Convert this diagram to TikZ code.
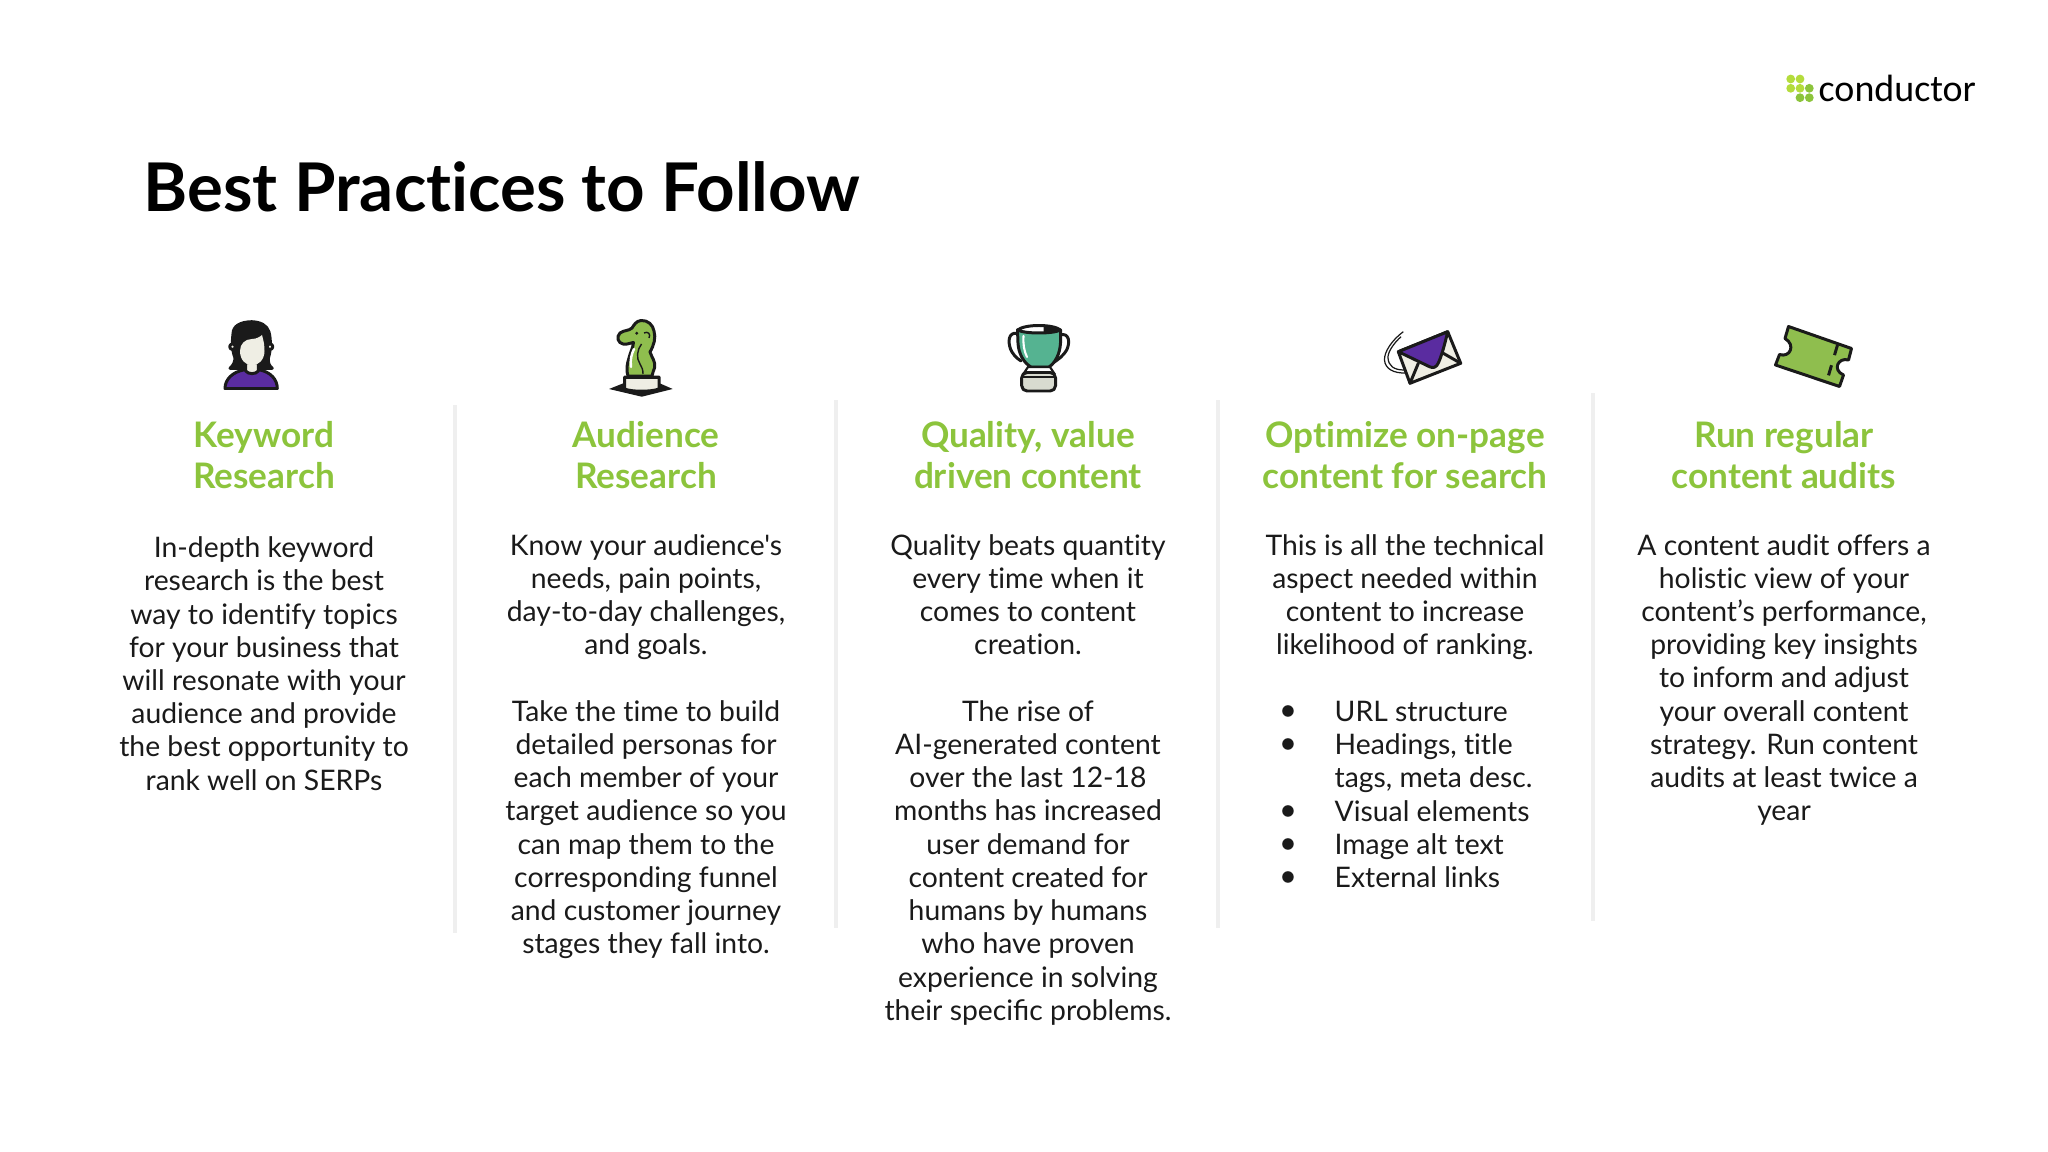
\documentclass[tikz,border=0pt]{standalone}
\usepackage{fontspec}
\newfontfamily\deckfont{Lato}[Ligatures=NoCommon]
\newfontfamily\logofont{Carlito}
\usepackage{tikz}
\definecolor{leaf}{HTML}{8CC43C}
\definecolor{moss}{HTML}{8FBE4E}
\definecolor{lime}{HTML}{B4DC3C}
\definecolor{ink}{HTML}{1A1A1A}
\definecolor{rule}{HTML}{EFEFEF}
\definecolor{plum}{HTML}{5A2CA0}
\definecolor{ivory}{HTML}{EFEEE4}
\definecolor{teal}{HTML}{55B391}
\definecolor{stone}{HTML}{D8DBD0}
\tikzset{
  heading/.style={anchor=north, align=center, inner sep=0pt, text=leaf,
    font=\deckfont\fontsize{10}{11.5}\selectfont\bfseries},
  bodytext/.style={anchor=north, align=center, inner sep=0pt, text=ink,
    font=\deckfont\fontsize{8.05}{9.45}\selectfont},
  listtext/.style={anchor=north west, align=left, inner sep=0pt, text=ink,
    font=\deckfont\fontsize{8.05}{9.45}\selectfont},
  sepline/.style={draw=rule, line width=1.4pt},
  outline/.style={draw=ink, line width=0.85pt, line join=round, line cap=round}
}
\begin{document}
\begin{tikzpicture}[x=0.01cm, y=-0.01cm]
       \useasboundingbox (0,0) rectangle (2048,1152);
       \node (title) at (143,187) [anchor=west, inner sep=0pt, text=black] {\deckfont\fontsize{19.1}{21}\selectfont\bfseries Best Practices to Follow};
       % logo
       \fill [lime] (1790.7,79) circle (4.4);
       \fill [lime] (1800,79) circle (4.4);
       \fill [lime] (1790.7,88.3) circle (4.4);
       \fill [lime] (1800,88.3) circle (4.4);
       \fill [leaf] (1809.3,88.3) circle (4.4);
       \fill [leaf] (1800,97.7) circle (4.4);
       \fill [leaf] (1809.3,97.7) circle (4.4);
       \node (logo) at (1818,102) [anchor=base west, inner sep=0pt, text=black] {\logofont\fontsize{10.8}{12}\selectfont conductor};
       % rules between the columns
       \draw [sepline] (455,405) -- (455,933);
       \draw [sepline] (836,400) -- (836,928);
       \draw [sepline] (1218,400) -- (1218,928);
       \draw [sepline] (1593,393) -- (1593,921);
       % person
       \draw [outline, fill=ink] (251.7,321.7) .. controls (240,322) and (233,326) .. (233,334) .. controls (232,342) and (232,350) .. (235,358) .. controls (235,362) and (233,366) .. (230,368.3) -- (272.3,368.3) .. controls (269,366) and (268,362) .. (268.3,358.3) .. controls (271,350) and (271,340) .. (269,332) .. controls (267,325) and (260,322) .. (251.7,321.7) -- cycle;
       \draw [outline, fill=ivory] (232.5,346.7) circle (2.8);
       \draw [outline, fill=ivory] (270,346.7) circle (2.8);
       \draw [outline, fill=plum] (225,388.5) .. controls (225,379) and (233,372) .. (243.5,370) -- (260,370) .. controls (270,372) and (277.3,379) .. (277.3,388.5) -- cycle;
       \draw [outline, fill=ivory] (245.7,363) -- (245.7,371) .. controls (248,374.5) and (256,374.5) .. (258.3,371) -- (258.3,363) -- cycle;
       \fill [ivory] (240,351) .. controls (240,344) and (245,339) .. (252,339) .. controls (257,339) and (261,336) .. (262,335) .. controls (264,342) and (264.5,346) .. (264.5,351) .. controls (264.5,360) and (258,365.5) .. (252,365.5) .. controls (246,365.5) and (240,360) .. (240,351) -- cycle;
       % knight
       \fill [ink] (609,389) -- (624,383) -- (659,383) -- (672.7,389) -- (641.7,396.7) -- cycle;
       \draw [outline, fill=moss] (628,376) .. controls (626,370) and (627,364) .. (629,358) .. controls (630,353) and (633,348) .. (633.5,342.5) .. controls (630,343) and (626,345) .. (623,344) .. controls (618,343) and (616,337) .. (620,333) .. controls (624,330) and (629,331) .. (632,328) .. controls (634,325) and (636,321) .. (641,320.5) .. controls (648,320) and (653,325) .. (654,331) .. controls (656,338) and (654,345) .. (650,352) .. controls (652,358) and (656,362) .. (654.5,368) .. controls (654,371) and (652,373) .. (652,376) -- cycle;
       \draw [white, line width=0.7pt, line cap=round] (634,349) .. controls (631.5,354) and (630,360) .. (631,367);
       \draw [ink, line width=0.4pt] (641.5,344) .. controls (637,350) and (636,358) .. (640,364) .. controls (642,367) and (643,370) .. (643,374);
       \draw [ink, line width=0.4pt] (644,333) .. controls (648,331) and (651,334) .. (649,338);
       \fill [ink] (636.7,333.3) circle (1.6);
       \draw [outline, fill=ivory] (624.5,377) -- (624.5,389) .. controls (632,392) and (651,392) .. (659,389) -- (659,377) -- cycle;
       \fill [ink] (624.5,376) rectangle (659,379);
       % trophy
       \draw [outline] (1017.3,333.3) .. controls (1008,332) and (1008,342) .. (1010.5,349) .. controls (1012,353) and (1016,358) .. (1021,361);
       \draw [outline] (1059.3,335) .. controls (1070,332) and (1070,343) .. (1066.7,350) .. controls (1064,355) and (1058,360) .. (1052,363.5);
       \draw [outline, fill=teal] (1017.5,330) -- (1018,343) .. controls (1018.5,354) and (1024,363) .. (1031,367) -- (1049,367) .. controls (1055,363) and (1060,354) .. (1060.5,343) -- (1060.5,330) -- cycle;
       \draw [white, line width=0.6pt, line cap=round] (1023.5,336) .. controls (1023,344) and (1024,351) .. (1027,357);
       \draw [outline, fill=white] (1017.5,330) .. controls (1025,324) and (1053,324) .. (1060.5,330) .. controls (1053,334) and (1025,334) .. (1017.5,330) -- cycle;
       \fill [ink] (1043.5,326) .. controls (1050,326) and (1057,327.5) .. (1060.5,330) .. controls (1056,332.5) and (1050,333) .. (1043.5,333) -- cycle;
       \draw [ink, line width=0.6pt, fill=white] (1028,367) -- (1024,373) -- (1054,373) -- (1050,367) -- cycle;
       \draw [outline, fill=stone, rounded corners=1.5pt] (1021.7,372.5) rectangle (1055.5,391);
       \draw [ink, line width=0.6pt] (1022,377) -- (1055,377);
       % envelope
       \draw [ink, line width=0.35pt] (1403.3,331.7) .. controls (1392,340) and (1384,352) .. (1384.5,360) .. controls (1385,369) and (1394,373.5) .. (1406,373);
       \draw [ink, line width=0.35pt] (1401,336.7) .. controls (1394,343) and (1387.5,352) .. (1388,358) .. controls (1388.5,366) and (1394,370) .. (1404,370);
       \draw [outline, fill=ivory] (1398.3,351.7) -- (1447.7,331.7) -- (1460.7,363.3) -- (1410,383.3) -- cycle;
       \draw [outline] (1410,383.3) -- (1418.3,363.3);
       \draw [outline] (1460.7,363.3) -- (1443.3,353.3);
       \draw [outline, fill=plum] (1398.3,351.7) -- (1447.7,331.7) .. controls (1445,343) and (1442,355) .. (1438.3,363) .. controls (1436.5,367.5) and (1433,368.5) .. (1429.5,366.7) -- cycle;
       % ticket
       \draw [outline, fill=moss] (1788.5,326.5) -- (1851.5,348.5) -- (1848.5,360) .. controls (1838,357) and (1832,370) .. (1843.5,375) -- (1839.5,386.5) -- (1775.5,365) -- (1779.5,354.5) .. controls (1790,358) and (1796,345) .. (1785,338.5) -- cycle;
       \draw [ink, line width=0.85pt, dashed] (1837.5,345) -- (1827,380.5);
       % headings
       \node (headkeyword) at (264,421) [heading] {Keyword\\Research};
       \node (headaudience) at (646,421) [heading] {Audience\\Research};
       \node (headquality) at (1028,421) [heading] {Quality, value\\driven content};
       \node (headonpage) at (1405,421) [heading] {Optimize on-page\\content for search};
       \node (headaudits) at (1784,421) [heading] {Run regular\\content audits};
       % column texts
       \node (textkeyword) at (264,536) [bodytext] {In-depth keyword\\research is the best\\way to identify topics\\for your business that\\will resonate with your\\audience and provide\\the best opportunity to\\rank well on SERPs};
       \node (textaudience) at (646,533.5) [bodytext] {Know your audience's\\needs, pain points,\\day-to-day challenges,\\and goals.\\[9.45pt]Take the time to build\\detailed personas for\\each member of your\\target audience so you\\can map them to the\\corresponding funnel\\and customer journey\\stages they fall into.};
       \node (textquality) at (1028,533.5) [bodytext] {Quality beats quantity\\every time when it\\comes to content\\creation.\\[9.45pt]The rise of\\AI-generated content\\over the last 12-18\\months has increased\\user demand for\\content created for\\humans by humans\\who have proven\\experience in solving\\their speciﬁc problems.};
       \node (textonpage) at (1405,533.5) [bodytext] {This is all the technical\\aspect needed within\\content to increase\\likelihood of ranking.};
       \node (listonpage) at (1334,700.5) [listtext] {URL structure\\Headings, title\\tags, meta desc.\\Visual elements\\Image alt text\\External links};
       \node (dotsonpage) at (1288,705) [bodytext] {$\bullet$\\$\bullet$\\[9.45pt]$\bullet$\\$\bullet$\\$\bullet$};
       \node (textaudits) at (1784,533.5) [bodytext] {A content audit offers a\\holistic view of your\\content’s performance,\\providing key insights\\to inform and adjust\\your overall content\\strategy. Run content\\audits at least twice a\\year};
\end{tikzpicture}
\end{document}
